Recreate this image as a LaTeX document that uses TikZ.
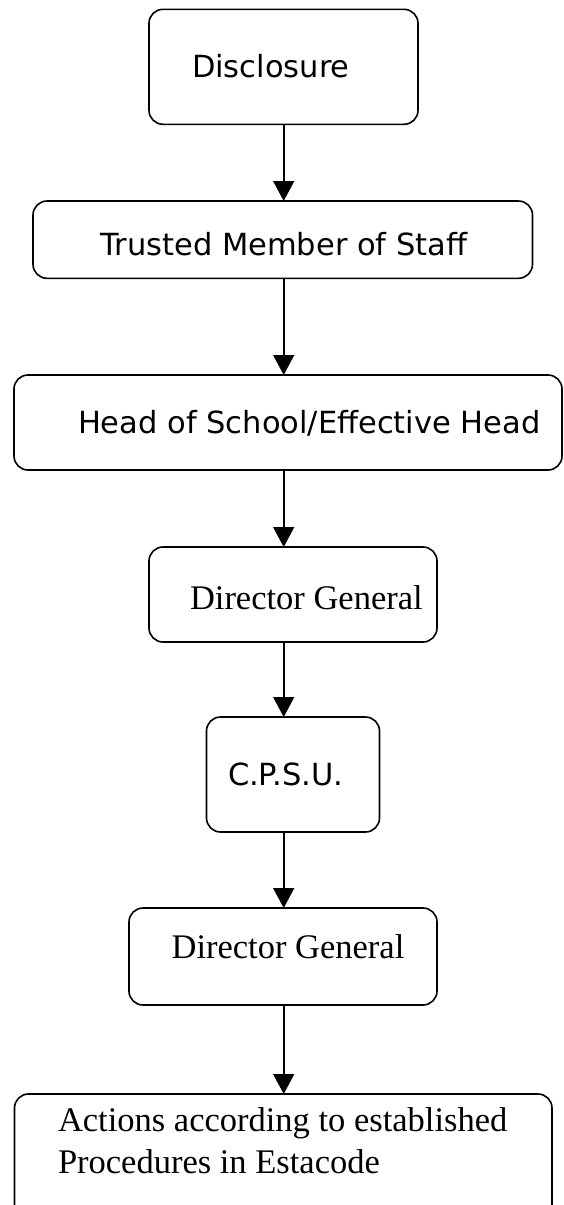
\documentclass[tikz,border=0pt]{standalone}
\usepackage{fontspec}
\setmainfont{Liberation Serif}
\newfontfamily\comicfont{DejaVu Sans}
\usetikzlibrary{arrows.meta}
\tikzset{
  flowbox/.style={draw, line width=1.6pt, rounded corners=14pt, inner sep=0pt, outer sep=0pt},
  sanslabel/.style={inner sep=0pt, outer sep=0pt, anchor=base west, font=\comicfont\fontsize{30.5}{36}\selectfont},
  seriflabel/.style={inner sep=0pt, outer sep=0pt, anchor=base west, font=\fontsize{34.5}{41.6}\selectfont},
  flowarrow/.style={line width=1.6pt, -{Triangle[width=21pt,length=20pt]}}
}
\begin{document}
\begin{tikzpicture}[x=1pt, y=-1pt]
\useasboundingbox (0,0) rectangle (563,1205);
\fill[white] (0,0) rectangle (563,1205);
\coordinate (ax) at (283.7,0);
% boxes
\node[flowbox, minimum width=269pt, minimum height=115pt] (b1) at (283.5,66.8) {};
\node[flowbox, minimum width=499.5pt, minimum height=77.3pt] (b2) at (282.75,239.65) {};
\node[flowbox, minimum width=548pt, minimum height=95pt] (b3) at (288,422.5) {};
\node[flowbox, minimum width=288pt, minimum height=95pt] (b4) at (293,594.5) {};
\node[flowbox, minimum width=173pt, minimum height=115pt] (b5) at (293,774.5) {};
\node[flowbox, minimum width=308pt, minimum height=97pt] (b6) at (283,956.5) {};
\node[flowbox, minimum width=537.5pt, minimum height=130pt] (b7) at (283.25,1159) {};
% texts
\node[sanslabel] (t1) at (192,77) {Disclosure};
\node[sanslabel] (t2) at (100.5,255) {Trusted Member of Staff};
\node[sanslabel] (t3) at (78,433) {Head of School/Effective Head};
\node[seriflabel] (t4) at (190,609) {Director General};
\node[sanslabel] (t5) at (228,785) {C.P.S.U.};
\node[seriflabel] (t6) at (171.6,958) {Director General};
\node[seriflabel, align=left] (t7) at (58,1173) {Actions according to established\\Procedures in Estacode};
% arrows
\draw[flowarrow] (b1.south -| ax) -- (b2.north -| ax);
\draw[flowarrow] (b2.south -| ax) -- (b3.north -| ax);
\draw[flowarrow] (b3.south -| ax) -- (b4.north -| ax);
\draw[flowarrow] (b4.south -| ax) -- (b5.north -| ax);
\draw[flowarrow] (b5.south -| ax) -- (b6.north -| ax);
\draw[flowarrow] (b6.south -| ax) -- (b7.north -| ax);
\end{tikzpicture}
\end{document}
